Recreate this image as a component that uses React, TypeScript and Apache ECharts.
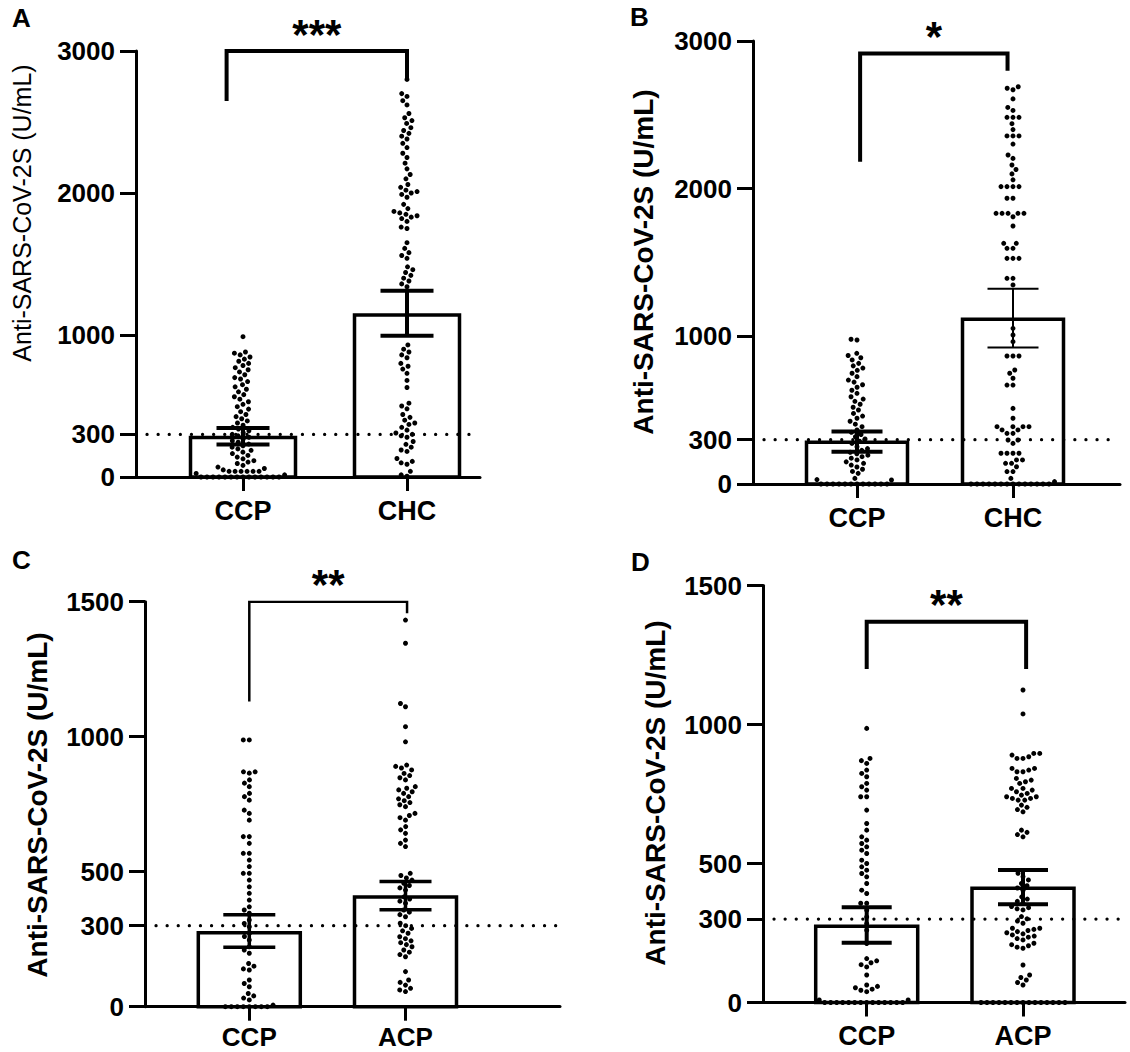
import React, { useEffect, useRef } from "react";
import * as echarts from "echarts";

// ---------------- data ----------------
const yAxisTitle = "Anti-SARS-CoV-2S (U/mL)";
const threshold = 300;

const groupsA = ["CCP", "CHC"];
const groupsB = ["CCP", "CHC"];
const groupsC = ["CCP", "ACP"];
const groupsD = ["CCP", "ACP"];

const yTicksAB = [0, 300, 1000, 2000, 3000];
const yTicksCD = [0, 300, 500, 1000, 1500];

// bar heights (mean) and error-bar limits per group
const meansA = [278, 1140];
const lowsA = [228, 995];
const highsA = [345, 1312];

const meansB = [282, 1115];
const lowsB = [218, 924];
const highsB = [356, 1322];

const meansC = [274, 406];
const lowsC = [220, 359];
const highsC = [341, 464];

const meansD = [274, 411];
const lowsD = [215, 353];
const highsD = [343, 477];

// significance brackets: [left x, right x, top, left arm end, right arm end]
const bracketA = [0.9, 2.0, 3000, 2648, 2798];
const bracketB = [1.02, 1.965, 2916, 2183, 2799];
const bracketC = [1.0, 2.01, 1500, 1130, 1457];
const bracketD = [1.0, 2.02, 1370, 1200, 1200];
const starsA = "***";
const starsB = "*";
const starsC = "**";
const starsD = "**";

// individual values (U/mL)
const dotsA_CCP = [
  988, 880, 872, 860, 845, 830, 815, 800, 785, 770, 755, 740, 720, 700, 690, 672,
  650, 635, 618, 600, 580, 565, 548, 530, 512, 495, 478, 460, 440, 425, 410, 395,
  380, 365, 350, 338, 325, 312, 300, 290, 280, 268, 255, 245, 232, 220, 210, 198,
  188, 175, 165, 152, 140, 128, 115, 105, 95, 82, 70, 60, 50, 40, 40, 40, 40, 40,
  40, 25, 15, 0, 0, 0, 0, 0, 0, 0, 0, 0, 0, 0, 0, 0, 0,
];
const dotsA_CHC = [
  2800, 2700, 2680, 2650, 2620, 2560, 2530, 2510, 2490, 2460, 2440, 2420, 2400, 2380,
  2350, 2320, 2280, 2250, 2210, 2170, 2130, 2100, 2060, 2040, 2020, 2010, 2000, 1990,
  1970, 1920, 1890, 1870, 1860, 1850, 1840, 1830, 1820, 1800, 1760, 1750, 1650, 1610,
  1580, 1560, 1540, 1480, 1460, 1440, 1420, 1400, 1380, 1360, 1340, 930, 900, 880,
  860, 840, 800, 780, 760, 730, 680, 630, 520, 500, 480, 440, 420, 400, 380, 370,
  350, 330, 310, 300, 290, 280, 250, 230, 210, 190, 180, 130, 110, 100, 90, 40, 15, 5,
];
const dotsB_CCP = [
  980, 975, 885, 870, 855, 840, 817, 800, 785, 770, 750, 727, 704, 690, 672, 655,
  635, 614, 591, 575, 560, 540, 520, 501, 478, 460, 445, 425, 405, 388, 366, 350,
  335, 320, 305, 290, 275, 253, 240, 228, 215, 205, 195, 185, 175, 163, 150, 140,
  128, 115, 100, 85, 72, 38, 30, 27, 0, 0, 0, 0, 0, 0, 0, 0, 0, 0, 0, 0,
];
const dotsB_CHC = [
  2690, 2680, 2670, 2608, 2550, 2530, 2483, 2483, 2483, 2440, 2400, 2357, 2357, 2357,
  2302, 2228, 2205, 2160, 2130, 2100, 2060, 2014, 2014, 2014, 2014, 1935, 1935, 1833,
  1833, 1833, 1833, 1833, 1810, 1747, 1630, 1630, 1596, 1596, 1528, 1528, 1528, 1393,
  1393, 1348, 1054, 1009, 964, 867, 867, 867, 772, 750, 716, 670, 670, 512, 445, 388,
  388, 388, 388, 366, 366, 343, 343, 298, 298, 275, 208, 208, 208, 208, 163, 163, 140,
  140, 117, 84, 84, 38, 16, 0, 0, 0, 0, 0, 0, 0, 0, 0, 0, 0, 0, 0, 0,
];
const dotsC_CCP = [
  988, 988, 870, 870, 865, 840, 828, 815, 790, 778, 765, 728, 716, 691, 630, 630, 605,
  568, 568, 543, 519, 494, 494, 469, 444, 420, 395, 370, 358, 346, 321, 308, 296, 272,
  260, 247, 222, 210, 198, 160, 150, 140, 136, 99, 86, 74, 49, 40, 32, 25, 6,
  0, 0, 0, 0, 0, 0, 0, 0,
];
const dotsC_ACP = [
  1432, 1346, 1123, 1111, 1037, 981, 895, 890, 884, 877, 864, 856, 848, 840, 815, 809,
  803, 796, 790, 778, 770, 763, 756, 748, 741, 716, 708, 700, 691, 667, 655, 642, 617,
  605, 593, 494, 486, 477, 469, 457, 449, 440, 432, 407, 399, 391, 383, 358, 350, 341,
  333, 309, 300, 290, 281, 272, 259, 252, 244, 237, 230, 222, 210, 202, 193, 185, 130,
  99, 90, 80, 68, 62, 56,
];
const dotsD_CCP = [
  986, 878, 870, 860, 836, 824, 812, 788, 776, 764, 740, 740, 692, 644, 620, 596, 584,
  572, 560, 548, 536, 512, 500, 488, 476, 464, 452, 428, 404, 392, 357, 357, 332, 308,
  284, 260, 212, 158, 150, 143, 136, 128, 99, 63, 58, 53, 48, 44, 39, 9, 9,
  0, 0, 0, 0, 0, 0, 0, 0, 0, 0, 0, 0, 0, 0,
];
const dotsD_ACP = [
  1124, 1038, 896, 896, 890, 884, 878, 878, 842, 842, 836, 830, 830, 806, 800, 794, 788,
  770, 770, 764, 758, 752, 746, 740, 740, 734, 734, 728, 728, 710, 702, 694, 686, 620,
  612, 604, 596, 465, 453, 441, 428, 420, 412, 404, 380, 372, 364, 357, 345, 341, 337,
  333, 309, 301, 293, 285, 267, 267, 263, 259, 255, 251, 247, 243, 239, 235, 230, 225,
  213, 208, 204, 199, 195, 135, 99, 90, 81, 72, 63,
  0, 0, 0, 0, 0, 0, 0, 0, 0, 0, 0, 0, 0, 0, 0,
];

// ---------------- assembly ----------------
type Panel = {
  letter: string;
  cats: string[];
  yMax: number;
  yTicks: number[];
  means: number[];
  lows: number[];
  highs: number[];
  dots: number[][];
  bracket: number[];
  stars: string;
};

const panels: Panel[] = [
  { letter: "A", cats: groupsA, yMax: 3000, yTicks: yTicksAB, means: meansA, lows: lowsA, highs: highsA, dots: [dotsA_CCP, dotsA_CHC], bracket: bracketA, stars: starsA },
  { letter: "B", cats: groupsB, yMax: 3000, yTicks: yTicksAB, means: meansB, lows: lowsB, highs: highsB, dots: [dotsB_CCP, dotsB_CHC], bracket: bracketB, stars: starsB },
  { letter: "C", cats: groupsC, yMax: 1500, yTicks: yTicksCD, means: meansC, lows: lowsC, highs: highsC, dots: [dotsC_CCP, dotsC_ACP], bracket: bracketC, stars: starsC },
  { letter: "D", cats: groupsD, yMax: 1500, yTicks: yTicksCD, means: meansD, lows: lowsD, highs: highsD, dots: [dotsD_CCP, dotsD_ACP], bracket: bracketD, stars: starsD },
];

// layout (pixels)
const layouts = [
  { axisX: 136, right: 480, top: 51, bottom: 477, c1: 243, c2: 407, barW: 105, capW: 53, errW: [4, 4], bracketW: 4, titleX: 22, titleY: 213, titleSize: 25, titleWeight: "normal", letterX: 12, letterY: 5, xLabelSize: 27, xLabelMargin: 20 },
  { axisX: 753, right: 1120, top: 41, bottom: 484, c1: 857, c2: 1013, barW: 101, capW: 51, errW: [4, 2], bracketW: 4, titleX: 643, titleY: 262, titleSize: 28, titleWeight: "bold", letterX: 630, letterY: 4, xLabelSize: 27, xLabelMargin: 20 },
  { axisX: 145, right: 560, top: 601.7, bottom: 1006.7, c1: 249.3, c2: 405.5, barW: 102, capW: 52, errW: [3.5, 3.5], bracketW: 2.5, titleX: 37, titleY: 805, titleSize: 28, titleWeight: "bold", letterX: 12, letterY: 547, xLabelSize: 26, xLabelMargin: 17 },
  { axisX: 763, right: 1125, top: 585.5, bottom: 1002.5, c1: 866.7, c2: 1023, barW: 102, capW: 50, errW: [4, 4], bracketW: 4, titleX: 655, titleY: 793, titleSize: 28, titleWeight: "bold", letterX: 631, letterY: 549, xLabelSize: 27, xLabelMargin: 20 },
];

const FONT = "'Liberation Sans', Arial, Helvetica, sans-serif";

// beeswarm layout of dots around a category centre (non-overlapping)
function swarm(values: number[], center: number, pxPerX: number, pxPerY: number, d: number): number[][] {
  const order = values.map((_, i) => i).sort((a, b) => values[a] - values[b]);
  const placed: { x: number; y: number }[] = [];
  const out: number[][] = new Array(values.length);
  for (const i of order) {
    const y = values[i] * pxPerY;
    const near = placed.filter((p) => Math.abs(p.y - y) < d);
    const cands = [0];
    for (const p of near) {
      const dx = Math.sqrt(d * d - (p.y - y) * (p.y - y));
      cands.push(p.x + dx, p.x - dx);
    }
    cands.sort((a, b) => Math.abs(a) - Math.abs(b) || a - b);
    let best = 0;
    for (const c of cands) {
      if (near.every((p) => (p.x - c) * (p.x - c) + (p.y - y) * (p.y - y) >= d * d - 0.01)) {
        best = c;
        break;
      }
    }
    placed.push({ x: best, y });
    out[i] = [center + best / pxPerX, values[i]];
  }
  return out;
}

function buildOption() {
  const grid: any[] = [];
  const xAxis: any[] = [];
  const yAxis: any[] = [];
  const series: any[] = [];
  const graphic: any[] = [];

  panels.forEach((P, i) => {
    const L = layouts[i];
    const pxPerX = L.c2 - L.c1;
    const xMin = 1 - (L.c1 - L.axisX) / pxPerX;
    const xMax = 2 + (L.right - L.c2) / pxPerX;
    const h = L.bottom - L.top;
    const pxPerY = h / P.yMax;

    grid.push({ left: L.axisX, top: L.top, width: L.right - L.axisX, height: h, outerBoundsMode: "none" });

    xAxis.push({
      gridIndex: i,
      type: "value",
      min: xMin,
      max: xMax,
      axisLine: { show: true, onZero: false, lineStyle: { color: "#000", width: 3 } },
      axisTick: { show: true, customValues: [1, 2], length: 14, lineStyle: { color: "#000", width: 3 } },
      axisLabel: {
        show: true,
        customValues: [1, 2],
        formatter: (v: number) => P.cats[Math.round(v) - 1] ?? "",
        color: "#000",
        fontSize: L.xLabelSize,
        fontWeight: "bold",
        fontFamily: FONT,
        margin: L.xLabelMargin,
      },
      splitLine: { show: false },
    });

    yAxis.push({
      gridIndex: i,
      type: "value",
      min: 0,
      max: P.yMax,
      axisLine: { show: true, onZero: false, lineStyle: { color: "#000", width: 3 } },
      axisTick: { show: true, customValues: P.yTicks, length: 16, lineStyle: { color: "#000", width: 3 } },
      axisLabel: {
        show: true,
        customValues: P.yTicks,
        formatter: (v: number) => String(v),
        color: "#000",
        fontSize: 26,
        fontWeight: "bold",
        fontFamily: FONT,
        margin: 21,
      },
      splitLine: { show: false },
    });

    // bars
    series.push({
      type: "custom",
      xAxisIndex: i,
      yAxisIndex: i,
      z: 2,
      silent: true,
      encode: { x: 0, y: 1 },
      data: P.means.map((m, k) => [k + 1, m]),
      renderItem: (_params: any, api: any) => {
        const x = api.value(0);
        const v = api.value(1);
        const p0 = api.coord([x, 0]);
        const p1 = api.coord([x, v]);
        return {
          type: "rect",
          shape: { x: p0[0] - L.barW / 2, y: p1[1], width: L.barW, height: p0[1] - p1[1] },
          style: { fill: "#fff", stroke: "#000", lineWidth: 3.5 },
        };
      },
    });

    // dots
    const dotData = P.dots.flatMap((vals, k) => swarm(vals, k + 1, pxPerX, pxPerY, 6));
    series.push({
      type: "scatter",
      xAxisIndex: i,
      yAxisIndex: i,
      z: 3,
      silent: true,
      clip: false,
      symbol: "circle",
      symbolSize: 5,
      itemStyle: { color: "#000", opacity: 1 },
      data: dotData,
    });

    // threshold line
    series.push({
      type: "line",
      xAxisIndex: i,
      yAxisIndex: i,
      z: 4,
      silent: true,
      symbol: "none",
      showSymbol: false,
      lineStyle: { color: "#000", width: 3.2, type: [0.1, 11], cap: "round", opacity: 1 },
      data: [
        [xMin + 11 / pxPerX, threshold],
        [xMax - 4 / pxPerX, threshold],
      ],
    });

    // error bars
    series.push({
      type: "custom",
      xAxisIndex: i,
      yAxisIndex: i,
      z: 5,
      silent: true,
      encode: { x: 0, y: [1, 2] },
      data: P.means.map((_, k) => [k + 1, P.lows[k], P.highs[k]]),
      renderItem: (params: any, api: any) => {
        const x = api.value(0);
        const lo = api.coord([x, api.value(1)]);
        const hi = api.coord([x, api.value(2)]);
        const w = L.errW[params.dataIndex];
        const cw = L.capW / 2;
        const st = { stroke: "#000", lineWidth: w };
        return {
          type: "group",
          children: [
            { type: "line", shape: { x1: lo[0], y1: lo[1], x2: hi[0], y2: hi[1] }, style: st },
            { type: "line", shape: { x1: lo[0] - cw, y1: lo[1], x2: lo[0] + cw, y2: lo[1] }, style: st },
            { type: "line", shape: { x1: hi[0] - cw, y1: hi[1], x2: hi[0] + cw, y2: hi[1] }, style: st },
          ],
        };
      },
    });

    // significance bracket
    const [bl, br, bt, ble, bre] = P.bracket;
    series.push({
      type: "line",
      xAxisIndex: i,
      yAxisIndex: i,
      z: 5,
      silent: true,
      symbol: "none",
      showSymbol: false,
      lineStyle: { color: "#000", width: L.bracketW, join: "miter", cap: "butt", opacity: 1 },
      data: [
        [bl, ble],
        [bl, bt],
        [br, bt],
        [br, bre],
      ],
    });
    series.push({
      type: "scatter",
      xAxisIndex: i,
      yAxisIndex: i,
      z: 6,
      silent: true,
      clip: false,
      symbolSize: 0,
      itemStyle: { color: "#000", opacity: 1 },
      data: [[(bl + br) / 2, bt]],
      label: {
        show: true,
        position: "top",
        distance: -4,
        formatter: P.stars,
        color: "#000",
        opacity: 1,
        fontSize: 42,
        fontWeight: "bold",
        fontFamily: FONT,
      },
    });

    // axis title and panel letter
    graphic.push({
      type: "text",
      x: L.titleX,
      y: L.titleY,
      rotation: Math.PI / 2,
      silent: true,
      style: {
        text: yAxisTitle,
        fill: "#000",
        fontSize: L.titleSize,
        fontWeight: L.titleWeight,
        fontFamily: FONT,
        align: "center",
        verticalAlign: "middle",
      },
    });
    graphic.push({
      type: "text",
      x: L.letterX,
      y: L.letterY,
      silent: true,
      style: {
        text: P.letter,
        fill: "#000",
        fontSize: 26,
        fontWeight: "bold",
        fontFamily: FONT,
        align: "left",
        verticalAlign: "top",
      },
    });
  });

  return {
    animation: false,
    backgroundColor: "#fff",
    grid,
    xAxis,
    yAxis,
    series,
    graphic,
  };
}

export default function App() {
  const ref = useRef<HTMLDivElement>(null);
  useEffect(() => {
    document.body.style.margin = "0";
    if (!ref.current) return;
    const chart = echarts.init(ref.current, null, { renderer: "svg" });
    chart.setOption(buildOption() as any);
    return () => {
      chart.dispose();
    };
  }, []);
  return <div ref={ref} style={{ width: 1130, height: 1052, background: "#fff" }} />;
}
